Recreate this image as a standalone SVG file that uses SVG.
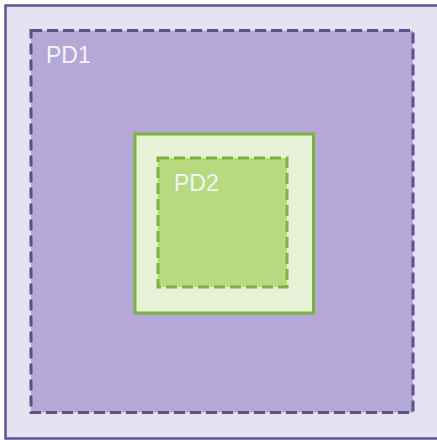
<svg xmlns="http://www.w3.org/2000/svg" width="437" height="440" viewBox="0 0 437 440">
<style>
.lbl{font-family:"Liberation Sans",Arial,sans-serif;font-size:23px;fill:#f4f4fa}
.dash{stroke-width:3;stroke-dasharray:11 5}
</style>
<rect width="437" height="440" fill="#ffffff"/>
<g id="outer">
<rect x="5.5" y="5.5" width="436" height="433" fill="#e5e2f1" stroke="#5f5391" stroke-width="2.5"/>
</g>
<g id="PD1">
<rect class="dash" x="31" y="30.5" width="382" height="382" fill="#b4a9d6" stroke="#5d508e"/>
<text class="lbl" x="46" y="62.5">PD1</text>
</g>
<g id="box">
<rect x="135" y="134" width="178.5" height="179" fill="#e8f2d8" stroke="#7db23d" stroke-width="3"/>
</g>
<g id="PD2">
<rect class="dash" x="158" y="158" width="129" height="129" fill="#b7d97f" stroke="#7db23d"/>
<text class="lbl" x="174" y="190.5">PD2</text>
</g>
<g id="connectors"/>
</svg>
